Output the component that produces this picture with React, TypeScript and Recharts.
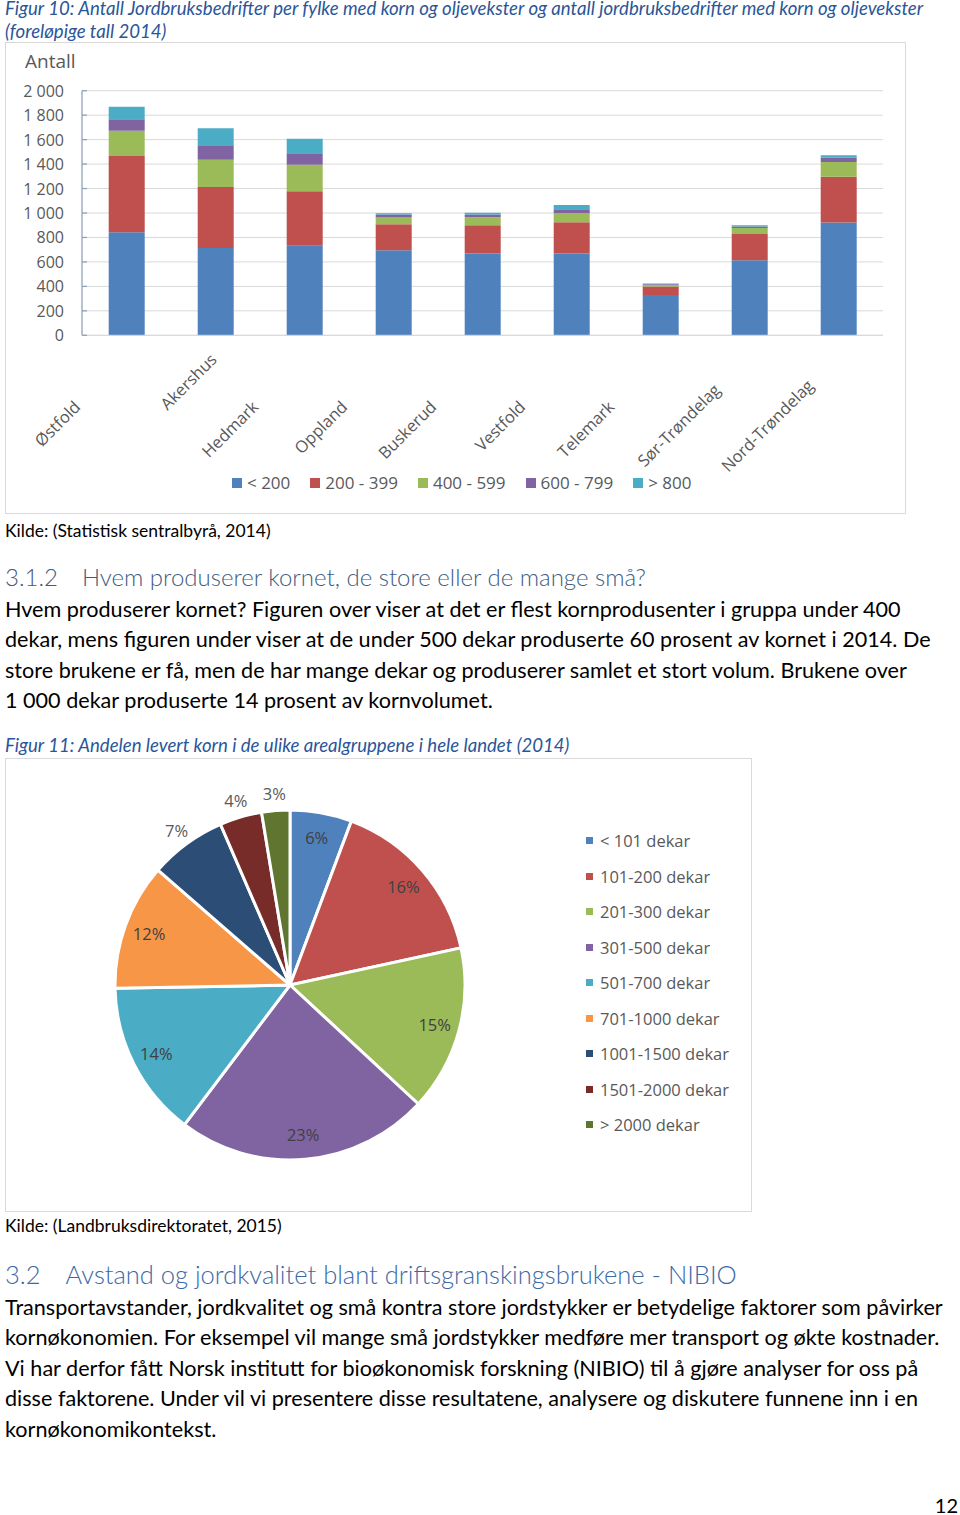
import React from 'react';
import { BarChart, Bar, XAxis, YAxis, CartesianGrid, PieChart, Pie, Cell } from 'recharts';

// Figur 10 – antall bedrifter per fylke, etter størrelsesgruppe (dekar)
const provinces = ['Østfold', 'Akershus', 'Hedmark', 'Oppland', 'Buskerud', 'Vestfold', 'Telemark', 'Sør-Trøndelag', 'Nord-Trøndelag'];
const under200 = [842, 714, 733, 695, 668, 668, 330, 614, 922];
const from200to399 = [624, 499, 444, 213, 232, 256, 68, 215, 374];
const from400to599 = [207, 223, 218, 55, 65, 76, 12, 49, 120];
const from600to799 = [93, 112, 93, 24, 22, 30, 7, 11, 35];
const over800 = [103, 144, 120, 11, 16, 35, 6, 11, 22];
const barSeriesNames = ['< 200', '200 - 399', '400 - 599', '600 - 799', '> 800'];
const yTicks = [0, 200, 400, 600, 800, 1000, 1200, 1400, 1600, 1800, 2000];

// Figur 11 – andel levert korn per arealgruppe
const sizeGroups = ['< 101 dekar', '101-200 dekar', '201-300 dekar', '301-500 dekar', '501-700 dekar', '701-1000 dekar', '1001-1500 dekar', '1501-2000 dekar', '> 2000 dekar'];
const grainShare = [5.7, 15.9, 15.3, 23.4, 14.4, 11.7, 7.1, 3.9, 2.6];

const barColors = ['#4F81BD', '#C0504D', '#9BBB59', '#8064A2', '#4BACC6'];
const pieColors = ['#4F81BD', '#C0504D', '#9BBB59', '#8064A2', '#4BACC6', '#F79646', '#2C4D75', '#772C2A', '#5F7530'];

const barData = provinces.map((name, i) => ({
  name,
  s0: under200[i],
  s1: from200to399[i],
  s2: from400to599[i],
  s3: from600to799[i],
  s4: over800[i],
}));
const pieData = sizeGroups.map((name, i) => ({ name, value: grainShare[i] }));

// excel placed a few rotated labels further along their baseline
const labelShift: Record<string, number> = { Akershus: 67, 'Sør-Trøndelag': 24, 'Nord-Trøndelag': 30 };
// small slices whose labels sit outside the pie
const outsideLabels = new Set(['1001-1500 dekar', '1501-2000 dekar', '> 2000 dekar']);

const CHART_FONT = '"Open Sans", sans-serif';
const BODY_FONT = 'Lato, "Noto Sans", sans-serif';
const GRAY = '#595959';
const AXIS = '#8EA3BF';

const fmtThousands = (v: number) =>
  v >= 1000 ? `${Math.floor(v / 1000)} ${String(v % 1000).padStart(3, '0')}` : String(v);

const YTick = (props: any) => {
  const { x, y, payload } = props;
  return (
    <g>
      <text x={x} y={y} textAnchor="end" dominantBaseline="central" fontSize={16} fill={GRAY} fontFamily={CHART_FONT}>
        {fmtThousands(payload.value)}
      </text>
      <line x1={x + 18} x2={x + 23} y1={y} y2={y} stroke={AXIS} strokeWidth={1.3} />
    </g>
  );
};

const XTick = (props: any) => {
  const { x, payload } = props;
  const shift = labelShift[payload.value] ?? 0;
  const px = x - 45 + shift * 0.707;
  const py = 366 - shift * 0.707;
  return (
    <text x={px} y={py} textAnchor="end" transform={`rotate(-45 ${px} ${py})`} fontSize={16.5} fill={GRAY} fontFamily={CHART_FONT}>
      {payload.value}
    </text>
  );
};

const RAD = Math.PI / 180;
const PieLabel = (props: any) => {
  const { cx, cy, midAngle, outerRadius, percent, name } = props;
  const outside = outsideLabels.has(name);
  const r = outside ? outerRadius + 17 : outerRadius - 25;
  const x = cx + r * Math.cos(-midAngle * RAD);
  const y = cy + r * Math.sin(-midAngle * RAD);
  return (
    <text x={x} y={y} textAnchor="middle" dominantBaseline="central" fontSize={16.5} fill={outside ? GRAY : '#404040'} fontFamily={CHART_FONT}>
      {`${Math.round(percent * 100)}%`}
    </text>
  );
};

const Line = ({ y, size, lh, children, style }: any) => (
  <div
    style={{
      position: 'absolute',
      left: 5,
      top: y - lh / 2,
      height: lh,
      lineHeight: `${lh}px`,
      fontSize: size,
      whiteSpace: 'nowrap',
      ...style,
    }}
  >
    {children}
  </div>
);

const caption = { fontStyle: 'italic', color: '#2A5699' };
const heading3 = { color: '#425C80', fontWeight: 300 };
const heading2 = { color: '#3A6AA6', fontWeight: 300 };

export default function App() {
  return (
    <div style={{ position: 'absolute', left: 0, top: 0, width: 960, height: 1515, background: '#fff', fontFamily: BODY_FONT, color: '#000' }}>
      <Line y={8} size={18.6} lh={22} style={caption}>
        Figur 10: Antall Jordbruksbedrifter per fylke med korn og oljevekster og antall jordbruksbedrifter med korn og oljevekster
      </Line>
      <Line y={31} size={18.6} lh={22} style={caption}>(foreløpige tall 2014)</Line>

      {/* stacked bar chart */}
      <div style={{ position: 'absolute', left: 5, top: 42, width: 901, height: 472, boxSizing: 'border-box', border: '1px solid #D9D9D9' }} />
      <div style={{ position: 'absolute', left: 5, top: 42, width: 901, height: 472 }}>
        <div style={{ position: 'absolute', left: 20, top: 6, fontSize: 19, color: GRAY, fontFamily: CHART_FONT }}>Antall</div>
        <BarChart
          width={901}
          height={472}
          data={barData}
          margin={{ top: 48.7, right: 23, left: 0, bottom: 28.7 }}
          barCategoryGap="30%"
          style={{ fontFamily: CHART_FONT }}
        >
          <CartesianGrid vertical={false} stroke="#D9D9D9" />
          <XAxis dataKey="name" interval={0} tickLine={false} axisLine={{ stroke: '#D9D9D9' }} height={150} tick={<XTick />} />
          <YAxis
            domain={[0, 2000]}
            ticks={yTicks}
            width={77}
            tickSize={0}
            tickMargin={18}
            tickLine={false}
            axisLine={{ stroke: AXIS, strokeWidth: 1.3 }}
            tick={<YTick />}
          />
          {barSeriesNames.map((n, i) => (
            <Bar key={n} dataKey={`s${i}`} name={n} stackId="a" fill={barColors[i]} isAnimationActive={false} />
          ))}
        </BarChart>
        <div style={{ position: 'absolute', left: 227, top: 430, display: 'flex', gap: 20, fontSize: 17, color: GRAY, fontFamily: CHART_FONT, lineHeight: '22px' }}>
          {barSeriesNames.map((n, i) => (
            <div key={n} style={{ display: 'flex', alignItems: 'center' }}>
              <span style={{ width: 10, height: 10, background: barColors[i], marginRight: 5, display: 'inline-block' }} />
              {n}
            </div>
          ))}
        </div>
      </div>

      <Line y={531} size={17.5} lh={22}>Kilde: (Statistisk sentralbyrå, 2014)</Line>
      <Line y={577} size={24} lh={30} style={heading3}>
        3.1.2<span style={{ display: 'inline-block', width: 24 }} />Hvem produserer kornet, de store eller de mange små?
      </Line>
      <Line y={609} size={21.6} lh={29}>Hvem produserer kornet? Figuren over viser at det er flest kornprodusenter i gruppa under 400</Line>
      <Line y={639} size={21.6} lh={29}>dekar, mens figuren under viser at de under 500 dekar produserte 60 prosent av kornet i 2014. De</Line>
      <Line y={670} size={21.6} lh={29}>store brukene er få, men de har mange dekar og produserer samlet et stort volum. Brukene over</Line>
      <Line y={700} size={21.6} lh={29}>1 000 dekar produserte 14 prosent av kornvolumet.</Line>

      <Line y={745} size={18.6} lh={22} style={caption}>Figur 11: Andelen levert korn i de ulike arealgruppene i hele landet (2014)</Line>

      {/* pie chart */}
      <div style={{ position: 'absolute', left: 5, top: 758, width: 747, height: 454, boxSizing: 'border-box', border: '1px solid #D9D9D9' }} />
      <div style={{ position: 'absolute', left: 5, top: 758, width: 747, height: 454 }}>
        <PieChart width={747} height={454} margin={{ top: 0, right: 0, bottom: 0, left: 0 }} style={{ fontFamily: CHART_FONT }}>
          <Pie
            data={pieData}
            dataKey="value"
            nameKey="name"
            cx={285}
            cy={227}
            outerRadius={175}
            startAngle={90}
            endAngle={-270}
            stroke="#fff"
            strokeWidth={3}
            label={PieLabel}
            labelLine={false}
            isAnimationActive={false}
          >
            {pieData.map((d, i) => (
              <Cell key={d.name} fill={pieColors[i]} />
            ))}
          </Pie>
        </PieChart>
        <div style={{ position: 'absolute', left: 581, top: 65, fontSize: 16.5, color: GRAY, fontFamily: CHART_FONT }}>
          {sizeGroups.map((n, i) => (
            <div key={n} style={{ display: 'flex', alignItems: 'center', height: 35.5 }}>
              <span style={{ width: 7, height: 7, background: pieColors[i], marginRight: 7, display: 'inline-block' }} />
              {n}
            </div>
          ))}
        </div>
      </div>

      <Line y={1226} size={17.5} lh={22}>Kilde: (Landbruksdirektoratet, 2015)</Line>
      <Line y={1274} size={25.5} lh={32} style={heading2}>
        3.2<span style={{ display: 'inline-block', width: 25 }} />Avstand og jordkvalitet blant driftsgranskingsbrukene - NIBIO
      </Line>
      <Line y={1307} size={21.6} lh={29}>Transportavstander, jordkvalitet og små kontra store jordstykker er betydelige faktorer som påvirker</Line>
      <Line y={1337} size={21.6} lh={29}>kornøkonomien. For eksempel vil mange små jordstykker medføre mer transport og økte kostnader.</Line>
      <Line y={1368} size={21.6} lh={29}>Vi har derfor fått Norsk institutt for bioøkonomisk forskning (NIBIO) til å gjøre analyser for oss på</Line>
      <Line y={1398} size={21.6} lh={29}>disse faktorene. Under vil vi presentere disse resultatene, analysere og diskutere funnene inn i en</Line>
      <Line y={1429} size={21.6} lh={29}>kornøkonomikontekst.</Line>

      <div style={{ position: 'absolute', right: 2, top: 1493, fontSize: 20, lineHeight: '24px' }}>12</div>
    </div>
  );
}
